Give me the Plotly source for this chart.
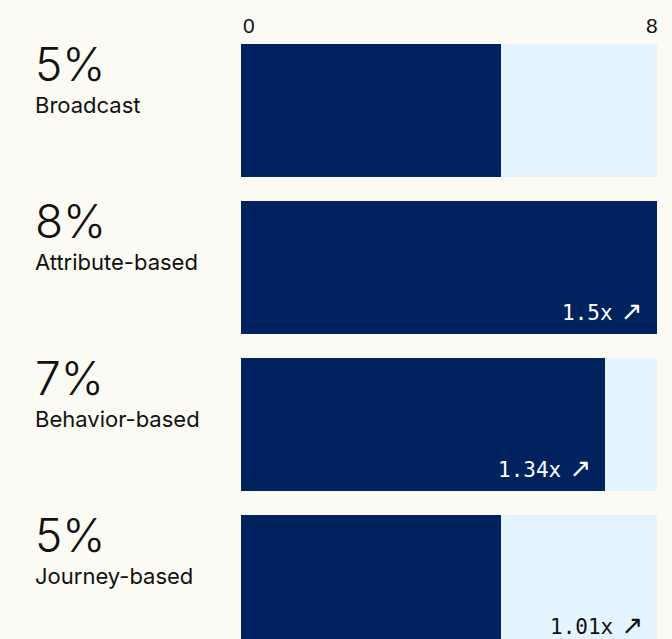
import plotly.graph_objects as go

categories = ["Broadcast", "Attribute-based", "Behavior-based", "Journey-based"]
values = [5, 8, 7, 5]
pct_labels = ["5%", "8%", "7%", "5%"]
ratio_labels = ["", "1.5x", "1.34x", "1.01x"]
axis_max = 8
tick_vals = [0, 8]
tick_text = ["0", "8"]

BG = "#FBFBF4"
DARK = "#00235F"
TRACK = "#E3F4FF"
TEXT = "#111111"

ypos = list(range(len(categories)))

fig = go.Figure()
fig.add_trace(go.Bar(
    x=[axis_max] * len(categories), y=ypos, orientation="h",
    marker=dict(color=TRACK, line=dict(width=0)), width=0.85,
    hoverinfo="skip", showlegend=False))
fig.add_trace(go.Bar(
    x=values, y=ypos, orientation="h",
    marker=dict(color=DARK, line=dict(width=0)), width=0.85,
    showlegend=False, hovertemplate="%{x}%<extra></extra>"))

paper_w = 672 - 241 - 15
left_x = -(241 - 33) / paper_w

annotations = []
# top axis tick labels: first left-aligned at its tick, last right-aligned
for tv, tt in zip(tick_vals, tick_text):
    first = tv == tick_vals[0]
    annotations.append(dict(
        x=tv, xref="x", y=1, yref="paper", text=tt, showarrow=False,
        xanchor="left" if first else "right", yanchor="middle",
        xshift=0 if first else 3, yshift=7,
        font=dict(family="Liberation Sans", size=21, color=TEXT)))

for i, (cat, pct, ratio, v) in enumerate(zip(categories, pct_labels, ratio_labels, values)):
    annotations.append(dict(
        x=left_x, xref="paper", y=i, yref="y", text=pct, showarrow=False,
        xanchor="left", yanchor="middle", yshift=47,
        font=dict(family="Inter", size=46, color=TEXT, weight=300)))
    annotations.append(dict(
        x=left_x, xref="paper", y=i, yref="y", text=cat, showarrow=False,
        xanchor="left", yanchor="middle", yshift=6,
        font=dict(family="Inter", size=22, color=TEXT)))
    if ratio:
        inside = v > 6
        lx = v if inside else axis_max
        annotations.append(dict(
            x=lx, xref="x", y=i, yref="y",
            text=ratio + "<span style=\"font-family:'DejaVu Sans';font-size:26px\"> \u2197</span>",
            showarrow=False,
            xanchor="right", yanchor="middle", xshift=-12, yshift=-43,
            font=dict(family="DejaVu Sans Mono", size=21,
                      color="white" if inside else TEXT)))

fig.update_layout(
    width=672, height=639,
    paper_bgcolor=BG, plot_bgcolor=BG,
    margin=dict(l=241, r=15, t=32, b=0),
    barmode="overlay", bargap=0,
    annotations=annotations,
    font=dict(family="Inter", color=TEXT),
    xaxis=dict(side="top", range=[0, axis_max], showticklabels=False,
               showgrid=False, zeroline=False, showline=False, ticks="", fixedrange=True),
    yaxis=dict(range=[3.366, -0.5], showticklabels=False, showgrid=False,
               zeroline=False, showline=False, fixedrange=True),
)

fig.write_html(
    "out.html",
    config={"displayModeBar": False},
    post_script="document.body.style.margin='0';document.body.style.padding='0';"
                "document.body.style.background='" + BG + "';"
                "document.body.style.overflow='hidden';",
)
